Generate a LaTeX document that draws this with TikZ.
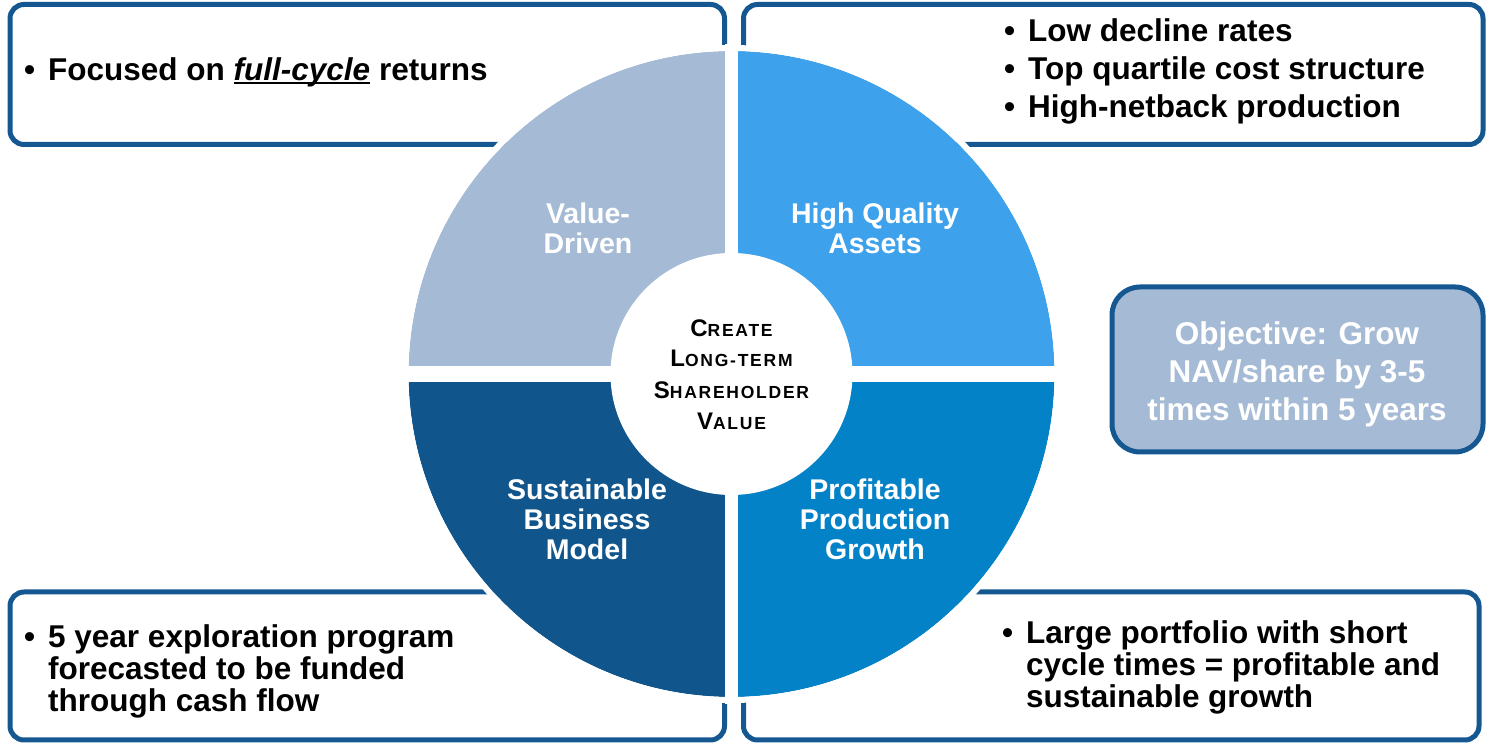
\documentclass[tikz,border=0pt]{standalone}
\usepackage{fontspec}
\setmainfont{Liberation Sans}
\newfontfamily\spacedfont[LetterSpace=10]{Liberation Sans}
\definecolor{edge}{RGB}{21,88,145}
\definecolor{qgray}{RGB}{165,186,213}
\definecolor{qsky}{RGB}{61,161,235}
\definecolor{qnavy}{RGB}{16,85,139}
\definecolor{qblue}{RGB}{4,130,200}
\newcommand\bul{\makebox[24pt][l]{\textbullet}}
\newcommand\ind{\hspace*{24pt}}
\newcommand\smcap[2]{{\fontsize{24}{31}\selectfont #1}{\fontsize{17.5}{31}\selectfont #2}}
\newlength\ulwd
\newcommand\thickul[1]{\settowidth\ulwd{#1}\rlap{\rule[-3.5pt]{\ulwd}{2.5pt}}#1}

\begin{document}
\begin{tikzpicture}[x=1pt,y=1pt,
  frame/.style={draw=edge,line width=5pt,fill=white,rounded corners=14pt},
  boxtext/.style={font=\fontsize{31.5}{32}\selectfont\bfseries,align=left,inner sep=0pt},
  quadtext/.style={font=\fontsize{28.5}{30}\selectfont\bfseries,text=white,align=center,inner sep=0pt}]
  \useasboundingbox (0,0) rectangle (1486,743);
  \draw[frame] (10,598.5) rectangle (724.5,738.5);
  \draw[frame] (743.5,598.5) rectangle (1483,738.5);
  \draw[frame] (10,3) rectangle (724.5,151);
  \draw[frame] (743.5,3) rectangle (1479,151);
  \draw[frame,fill=qgray,rounded corners=28pt] (1112,291) rectangle (1483,456);
  % four quarters of the wheel
  \coordinate (c) at (731.5,369);
  \fill[qgray] (c) -- ++(180:323) arc (180:90:323) -- cycle;
  \fill[qsky] (c) -- ++(90:323) arc (90:0:323) -- cycle;
  \fill[qblue] (c) -- ++(0:323) arc (0:-90:323) -- cycle;
  \fill[qnavy] (c) -- ++(-90:323) arc (-90:-180:323) -- cycle;
  \draw[white,line width=16pt] (c) ++(-330,0) -- ++(660,0);
  \draw[white,line width=13pt] (c) ++(0,-330) -- ++(0,660);
  \draw[white,line width=6pt] (c) circle (326);
  \fill[white] (c) circle (121);
  \node[font=\spacedfont\bfseries\fontsize{17.5}{31}\selectfont,align=center,inner sep=0pt] (goal) at (731.5,368)
    {\smcap{C}{REATE}\\[-1pt]\smcap{L}{ONG-TERM}\\[1pt]\smcap{S}{HAREHOLDER}\\[0pt]\smcap{V}{ALUE}};
  \node[quadtext] (value) at (588,515) {Value-\\Driven};
  \node[quadtext] (quality) at (875,515) {High Quality\\Assets};
  \node[quadtext] (model) at (587,224) {Sustainable\\Business\\Model};
  \node[quadtext] (growth) at (875,224) {Profitable\\Production\\Growth};
  \node[boxtext,text=white,align=center,font=\fontsize{31.5}{38}\selectfont\bfseries] (objective) at (1297,369)
    {Objective: Grow\\NAV/share by 3-5\\times within 5 years};
  \node[boxtext,anchor=base west] (cycle) at (24,662) {\bul Focused on \thickul{\textit{full-cycle}} returns};
  \node[boxtext,anchor=base west] (assets) at (1004,625)
    {\bul Low decline rates\\[6pt]\bul Top quartile cost structure\\[6pt]\bul High-netback production};
  \node[boxtext,anchor=base west] (funding) at (24,31)
    {\bul 5 year exploration program\\\ind forecasted to be funded\\\ind through cash flow};
  \node[boxtext,anchor=base west] (portfolio) at (1002,35)
    {\bul Large portfolio with short\\\ind cycle times = profitable and\\\ind sustainable growth};
\end{tikzpicture}
\end{document}
